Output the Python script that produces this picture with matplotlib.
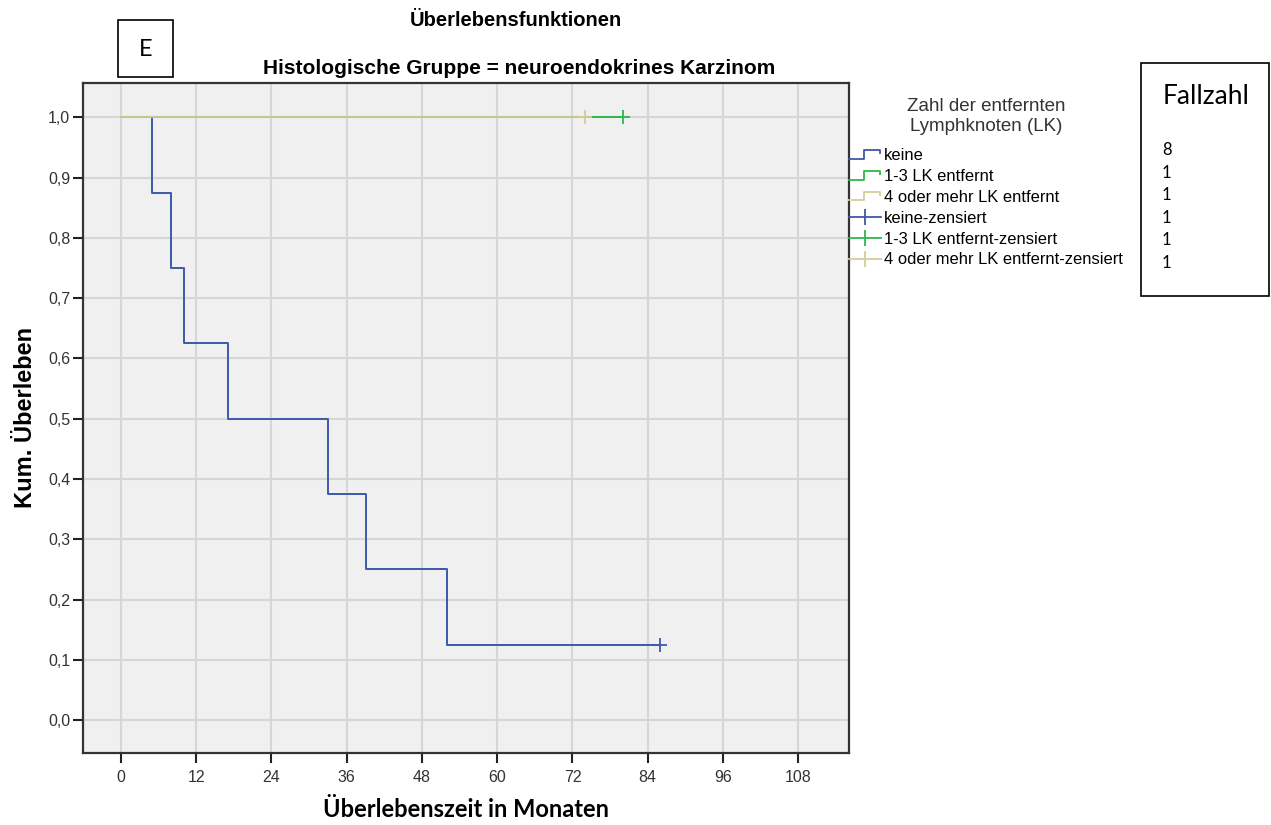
import numpy as np
import matplotlib.pyplot as plt
from matplotlib.lines import Line2D
from matplotlib.legend_handler import HandlerBase
from matplotlib.patches import Rectangle

plt.rcParams['font.family'] = ['Liberation Sans', 'DejaVu Sans']

# Kaplan-Meier Schätzer je Gruppe (Zeit in Monaten, kumuliertes Überleben)
keine_zeit = [0, 5, 8, 10, 17, 33, 39, 52, 86]
keine_surv = [1.0, 0.875, 0.75, 0.625, 0.5, 0.375, 0.25, 0.125, 0.125]
lk13_zeit = [0, 80]
lk13_surv = [1.0, 1.0]
lk4_zeit = [0, 74]
lk4_surv = [1.0, 1.0]

# zensierte Fälle
keine_zens = ([86], [0.125])
lk13_zens = ([80], [1.0])
lk4_zens = ([74], [1.0])

gruppen = ['keine', '1-3 LK entfernt', '4 oder mehr LK entfernt']
fallzahl = [8, 1, 1, 1, 1, 1]

x_ticks = [0, 12, 24, 36, 48, 60, 72, 84, 96, 108]
y_ticks = [0.0, 0.1, 0.2, 0.3, 0.4, 0.5, 0.6, 0.7, 0.8, 0.9, 1.0]

c_blau = '#3e58ac'
c_gruen = '#2eb848'
c_tan = '#d3ce97'

arial = 'Liberation Sans'
calibri = 'Lato'


class StepHandler(HandlerBase):
    def create_artists(self, legend, orig, xd, yd, w, h, fontsize, trans):
        lo = yd + h * 0.1
        hi = yd + h * 0.85
        xs = [xd, xd + w * 0.45, xd + w * 0.45, xd + w * 0.95, xd + w * 0.95]
        ys = [lo, lo, hi, hi, hi - h * 0.3]
        ln = Line2D(xs, ys, color=orig.get_color(), lw=1.3, transform=trans)
        return [ln]


class CensHandler(HandlerBase):
    def create_artists(self, legend, orig, xd, yd, w, h, fontsize, trans):
        ym = yd + h * 0.45
        ln = Line2D([xd, xd + w], [ym, ym], color=orig.get_color(), lw=1.3,
                    transform=trans)
        mk = Line2D([xd + w * 0.5], [ym], color=orig.get_color(), marker='|',
                    markersize=11, mew=1.3, transform=trans)
        return [ln, mk]


fig = plt.figure(figsize=(12.71, 8.25), dpi=100)
ax = fig.add_axes([0.0651, 0.0876, 0.6029, 0.8118])
ax.set_facecolor('#f0f0f0')

l1, = ax.step(keine_zeit, keine_surv, where='post', color=c_blau, lw=1.4)
l2, = ax.step(lk13_zeit, lk13_surv, where='post', color=c_gruen, lw=1.4)
l3, = ax.step(lk4_zeit, lk4_surv, where='post', color=c_tan, lw=1.4, alpha=0.9)
m1, = ax.plot(*keine_zens, ls='none', marker='+', ms=10, mew=1.3, color=c_blau)
m2, = ax.plot(*lk13_zens, ls='none', marker='+', ms=10, mew=1.3, color=c_gruen)
m3, = ax.plot(*lk4_zens, ls='none', marker='+', ms=10, mew=1.3, color=c_tan)

ax.set_xlim(-6.1, 116.1)
ax.set_ylim(-0.054, 1.057)
ax.set_xticks(x_ticks)
ax.set_yticks(y_ticks)
ax.set_yticklabels([f'{v:.1f}'.replace('.', ',') for v in y_ticks])
ax.grid(True, color='#d6d6d6', lw=1.5)
ax.set_axisbelow(True)
ax.tick_params(direction='out', length=7.5, width=1.5, color='#222222',
               labelsize=11.5, labelcolor='#333333')
ax.tick_params(axis='y', pad=1.5)
ax.tick_params(axis='x', pad=5)
for s in ax.spines.values():
    s.set_color('#333333')
    s.set_linewidth(1.6)

ax.set_xlabel('Überlebenszeit in Monaten', family=calibri, fontweight='bold',
              fontsize=17, labelpad=9)
ax.set_ylabel('Kum. Überleben', family=arial, fontweight='bold',
              fontsize=17, labelpad=8)

fig.text(516 / 1271, 1 - 21 / 825, 'Überlebensfunktionen', family=arial,
         fontweight='bold', fontsize=14.5, ha='center', va='center')
fig.text(519 / 1271, 1 - 68 / 825, 'Histologische Gruppe = neuroendokrines Karzinom',
         family=arial, fontweight='bold', fontsize=15, ha='center', va='center')

# Legende rechts neben dem Diagramm
handles = [l1, l2, l3, m1, m2, m3]
labels = gruppen + [g + '-zensiert' for g in gruppen]
hmap = {l1: StepHandler(), l2: StepHandler(), l3: StepHandler(),
        m1: CensHandler(), m2: CensHandler(), m3: CensHandler()}
leg = fig.legend(handles, labels, handler_map=hmap, loc='upper left',
                 bbox_to_anchor=(849 / 1271, 1 - 98 / 825), frameon=False,
                 prop={'family': arial, 'size': 11.9}, handlelength=1.95,
                 handletextpad=0.15, labelspacing=0.36, borderpad=0,
                 borderaxespad=0,
                 title='Zahl der entfernten\nLymphknoten (LK)',
                 title_fontproperties={'family': arial, 'size': 13.5})
leg.get_title().set_color('#333333')
leg.get_title().set_multialignment('center')
leg.get_title().set_linespacing(1.25)
leg._legend_box.sep = 9

# Kasten mit Fallzahlen
fig.add_artist(Rectangle((1141 / 1271, 1 - 296 / 825), 128 / 1271, 233 / 825,
                         transform=fig.transFigure, fill=False, lw=1.2,
                         ec='black'))
fig.text(1163 / 1271, 1 - 97 / 825, 'Fallzahl', family=calibri, fontsize=19,
         va='center', ha='left')
for i, n in enumerate(fallzahl):
    fig.text(1162 / 1271, 1 - (150 + i * 22.6) / 825, str(n), family=calibri,
             fontsize=12, va='center', ha='left')

# Kasten mit Teilbild-Buchstabe
fig.add_artist(Rectangle((118 / 1271, 1 - 77 / 825), 55 / 1271, 57 / 825,
                         transform=fig.transFigure, fill=False, lw=1.2,
                         ec='black'))
fig.text(145.5 / 1271, 1 - 49 / 825, 'E', family=calibri, fontsize=17,
         va='center', ha='center')

fig.savefig('out.png', dpi=100)
